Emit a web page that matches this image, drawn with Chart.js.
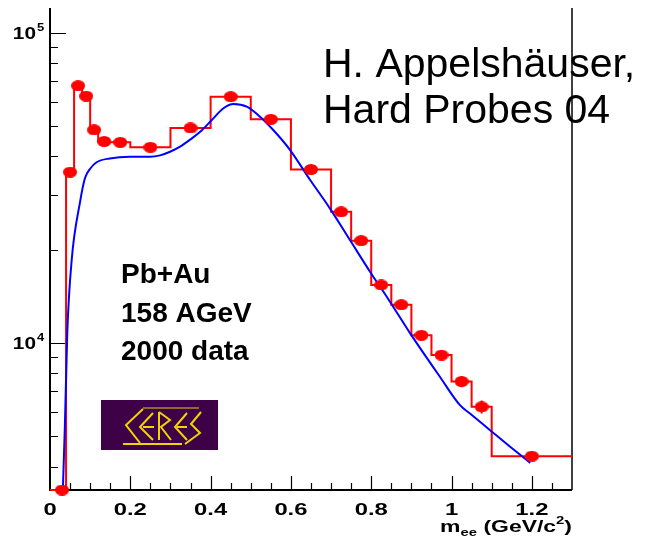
<!DOCTYPE html>
<html>
<head>
<meta charset="utf-8">
<script src="https://cdn.jsdelivr.net/npm/chart.js@4/dist/chart.umd.min.js"></script>
<style>
  html, body { margin: 0; padding: 0; background: #ffffff; }
  #c { display: block; }
</style>
</head>
<body>
<canvas id="c" width="651" height="538"></canvas>
<script>
// Dielectron invariant-mass spectrum, Pb+Au 158 AGeV (CERES, 2000 data)

// measured bins: lower / upper edges and yields
const binLo = [0.02, 0.04, 0.06, 0.08, 0.10, 0.12, 0.15, 0.20, 0.30, 0.40, 0.50, 0.60, 0.70, 0.75, 0.80, 0.85, 0.90, 0.95, 1.00, 1.05, 1.10];
const binHi = [0.04, 0.06, 0.08, 0.10, 0.12, 0.15, 0.20, 0.30, 0.40, 0.50, 0.60, 0.70, 0.75, 0.80, 0.85, 0.90, 0.95, 1.00, 1.05, 1.10, 1.30];
const yields = [3360, 35600, 67600, 62600, 48700, 44700, 44400, 42800, 49400, 62300, 52700, 36300, 26500, 21400, 15400, 13300, 10600, 9150, 7520, 6230, 4320];
const yieldErr = [0, 700, 1200, 1100, 900, 800, 700, 700, 800, 1000, 900, 700, 550, 450, 380, 340, 320, 330, 320, 300, 150];

// hadronic cocktail curve
const modelMass = [0.032, 0.037, 0.043, 0.054, 0.075, 0.087, 0.100, 0.116, 0.149, 0.199, 0.249, 0.274, 0.299, 0.324, 0.349, 0.374, 0.403, 0.432, 0.457, 0.490, 0.523, 0.556, 0.598, 0.648, 0.697, 0.747, 0.797, 0.843, 0.897, 0.971, 1.021, 1.046, 1.096, 1.146, 1.196];
const modelYield = [3360, 5370, 10770, 18530, 28600, 34000, 36500, 38300, 39400, 39900, 39900, 40300, 41400, 43000, 45300, 48000, 52400, 57180, 59020, 57850, 53700, 48650, 41940, 33570, 27200, 21500, 16990, 13830, 10750, 7790, 6310, 5930, 5240, 4630, 4110];

// axis ticks
const xTickValues = [0, 0.2, 0.4, 0.6, 0.8, 1, 1.2];
const xTickLabels = ['0', '0.2', '0.4', '0.6', '0.8', '1', '1.2'];
const yTickValues = [1e4, 1e5];
const yTickExponents = ['4', '5'];

const X_MIN = 0, X_MAX = 1.3;
const Y_MIN = 3360, Y_MAX = 120400;

const RED = '#ff0000';
const BLUE = '#0000ff';

// elliptical marker
function makeMarker(w, h, color) {
  const c = document.createElement('canvas');
  c.width = w; c.height = h;
  const g = c.getContext('2d');
  g.fillStyle = color;
  g.beginPath();
  g.ellipse(w / 2, h / 2, w / 2, h / 2, 0, 0, Math.PI * 2);
  g.fill();
  return c;
}
const marker = makeMarker(14, 11, RED);

const centers = binLo.map((lo, i) => (lo + binHi[i]) / 2);
const markerData = centers.map((x, i) => ({ x: x, y: yields[i] }));
// step outline: each bin's yield runs from its lower edge to its upper edge
const histData = [{ x: 0, y: yields[0] }];
binHi.forEach((hi, i) => { histData.push({ x: hi, y: yields[i] }); });
const modelData = modelMass.map((x, i) => ({ x: x, y: modelYield[i] }));

function txt(ctx, s, x, y, font, align, sx) {
  ctx.save();
  ctx.font = font;
  ctx.textAlign = align || 'left';
  ctx.textBaseline = 'alphabetic';
  ctx.translate(x, y);
  ctx.scale(sx || 1, 1);
  ctx.fillText(s, 0, 0);
  ctx.restore();
}
function txtWidth(ctx, s, font, sx) {
  ctx.save();
  ctx.font = font;
  const w = ctx.measureText(s).width * (sx || 1);
  ctx.restore();
  return w;
}

const FONT = '"Liberation Sans", Arial, Helvetica, sans-serif';

const framePlugin = {
  id: 'frame',
  beforeDatasetsDraw(chart) {
    const ctx = chart.ctx;
    const a = chart.chartArea;
    const xs = chart.scales.x, ys = chart.scales.y;
    ctx.save();
    ctx.strokeStyle = '#000000';
    ctx.lineCap = 'butt';
    // frame: left, bottom, right
    ctx.lineWidth = 2;
    ctx.beginPath();
    ctx.moveTo(a.left, a.top);
    ctx.lineTo(a.left, a.bottom);
    ctx.lineTo(a.right, a.bottom);
    ctx.stroke();
    ctx.lineWidth = 1.5;
    ctx.beginPath();
    ctx.moveTo(a.right, a.top);
    ctx.lineTo(a.right, a.bottom);
    ctx.stroke();

    // x ticks
    ctx.lineWidth = 1.2;
    ctx.beginPath();
    for (let i = 1; i * 0.05 < X_MAX - 1e-9; i++) {
      const v = i * 0.05;
      const px = Math.round(xs.getPixelForValue(v)) + 0.5;
      const major = Math.abs(v / 0.2 - Math.round(v / 0.2)) < 1e-6;
      ctx.moveTo(px, a.bottom);
      ctx.lineTo(px, a.bottom - (major ? 14 : 7));
    }
    ctx.stroke();

    // y ticks
    ctx.beginPath();
    for (let d = 3; d <= 5; d++) {
      for (let m = 1; m <= 9; m++) {
        const v = m * Math.pow(10, d);
        if (v <= Y_MIN || v >= Y_MAX) continue;
        const py = Math.round(ys.getPixelForValue(v)) + 0.5;
        ctx.moveTo(a.left, py);
        ctx.lineTo(a.left + (m === 1 ? 16 : 8), py);
      }
    }
    ctx.stroke();
    ctx.restore();
  },
  afterDatasetsDraw(chart) {
    const ctx = chart.ctx;
    const a = chart.chartArea;
    const xs = chart.scales.x, ys = chart.scales.y;
    ctx.save();
    ctx.fillStyle = '#000000';

    // error bars
    ctx.strokeStyle = RED;
    ctx.lineWidth = 2;
    ctx.beginPath();
    markerData.forEach((p, i) => {
      if (!yieldErr[i]) return;
      const px = xs.getPixelForValue(p.x);
      ctx.moveTo(px, ys.getPixelForValue(p.y + yieldErr[i]));
      ctx.lineTo(px, ys.getPixelForValue(p.y - yieldErr[i]));
    });
    ctx.stroke();

    // x tick labels
    xTickValues.forEach((v, i) => {
      txt(ctx, xTickLabels[i], xs.getPixelForValue(v), a.bottom + 25, 'bold 17px ' + FONT, 'center', 1.4);
    });
    // y tick labels 10^n
    yTickValues.forEach((v, i) => {
      const py = ys.getPixelForValue(v);
      txt(ctx, '10', a.left - 14, py + 6, 'bold 16px ' + FONT, 'right', 1.3);
      txt(ctx, yTickExponents[i], a.left - 13, py - 2, 'bold 10px ' + FONT, 'left', 1.3);
    });

    // axis title  m_ee (GeV/c^2)
    {
      const sx = 1.35;
      const big = 'bold 17px ' + FONT, small = 'bold 11px ' + FONT;
      const parts = [['m', big, 0], ['ee', small, 4], [' (GeV/c', big, 0], ['2', small, -8], [')', big, 0]];
      let w = 0;
      parts.forEach(p => { w += txtWidth(ctx, p[0], p[1], sx); });
      let x = a.right - w;
      const base = a.bottom + 42;
      parts.forEach(p => {
        txt(ctx, p[0], x, base + p[2], p[1], 'left', sx);
        x += txtWidth(ctx, p[0], p[1], sx);
      });
    }

    // reference and system labels
    txt(ctx, 'H. Appelsh\u00e4user,', 323, 77, '41px ' + FONT, 'left', 1);
    txt(ctx, 'Hard Probes 04', 323, 123, '41px ' + FONT, 'left', 1);
    txt(ctx, 'Pb+Au', 121, 283, 'bold 28px ' + FONT, 'left', 1);
    txt(ctx, '158 AGeV', 121, 322, 'bold 28px ' + FONT, 'left', 1);
    txt(ctx, '2000 data', 121, 360, 'bold 28px ' + FONT, 'left', 1);

    // CERES logo
    const L = 101, T = 400;
    ctx.fillStyle = '#3e0046';
    ctx.fillRect(L, T, 117, 50);
    ctx.lineWidth = 2;
    ctx.lineJoin = 'miter';
    ctx.strokeStyle = '#8c6a2c';
    ctx.beginPath();
    ctx.moveTo(L + 42, T + 8); ctx.lineTo(L + 98, T + 8);
    ctx.stroke();
    ctx.strokeStyle = '#f2d400';
    ctx.beginPath();
    // bottom bar
    ctx.moveTo(L + 22, T + 44); ctx.lineTo(L + 81, T + 44);
    // C
    ctx.moveTo(L + 42, T + 9); ctx.lineTo(L + 25, T + 25); ctx.lineTo(L + 39, T + 43);
    // E
    ctx.moveTo(L + 52, T + 13); ctx.lineTo(L + 39, T + 27); ctx.lineTo(L + 52, T + 40);
    ctx.moveTo(L + 42, T + 27); ctx.lineTo(L + 53, T + 27);
    // R
    ctx.moveTo(L + 58, T + 12); ctx.lineTo(L + 58, T + 40);
    ctx.moveTo(L + 58, T + 12); ctx.lineTo(L + 69, T + 20); ctx.lineTo(L + 60, T + 27); ctx.lineTo(L + 70, T + 40);
    // E
    ctx.moveTo(L + 86, T + 13); ctx.lineTo(L + 74, T + 27); ctx.lineTo(L + 86, T + 40);
    ctx.moveTo(L + 76, T + 27); ctx.lineTo(L + 86, T + 27);
    // S
    ctx.moveTo(L + 100, T + 12); ctx.lineTo(L + 90, T + 24); ctx.lineTo(L + 99, T + 33); ctx.lineTo(L + 84, T + 44);
    ctx.stroke();

    ctx.restore();
  }
};

new Chart(document.getElementById('c'), {
  type: 'line',
  data: {
    datasets: [
      {
        label: 'data',
        data: markerData,
        showLine: false,
        pointStyle: marker,
        pointRadius: 7,
        pointHoverRadius: 7,
        clip: false
      },
      {
        label: 'cocktail',
        data: modelData,
        borderColor: BLUE,
        borderWidth: 2,
        pointRadius: 0,
        cubicInterpolationMode: 'monotone',
        fill: false
      },
      {
        label: 'histogram',
        data: histData,
        borderColor: RED,
        borderWidth: 2,
        pointRadius: 0,
        stepped: 'after',
        fill: false,
        clip: false
      }
    ]
  },
  options: {
    responsive: false,
    animation: false,
    devicePixelRatio: 1,
    layout: { padding: { left: 50, right: 79, top: 8, bottom: 48 } },
    plugins: { legend: { display: false }, tooltip: { enabled: false } },
    events: [],
    scales: {
      x: { type: 'linear', min: X_MIN, max: X_MAX, display: false },
      y: { type: 'logarithmic', min: Y_MIN, max: Y_MAX, display: false }
    }
  },
  plugins: [framePlugin]
});
</script>
</body>
</html>
